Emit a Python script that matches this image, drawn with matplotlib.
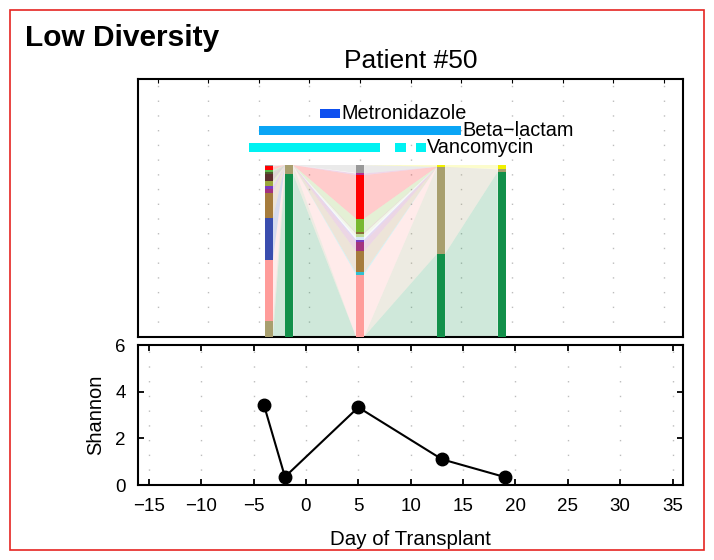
import numpy as np
import matplotlib
matplotlib.use("Agg")
import matplotlib.pyplot as plt
from matplotlib.patches import Rectangle

plt.rcParams['font.family'] = ['Liberation Sans', 'DejaVu Sans']

# --- data ---
sample_days = [-4, -2, 5, 13, 19]
shannon = [3.42, 0.35, 3.33, 1.1, 0.34]

# taxa, bottom -> top of each stacked bar
taxa_colors = ['#12904a', '#a89f6e', '#ff9c9a', '#30c0d0', '#3a4dae',
               '#a67c3c', '#a3337f', '#7a3cc0', '#d6e6f6', '#c0dc9a',
               '#8b6b3a', '#9ca83c', '#78b830', '#5e2e2e', '#4f5a2a',
               '#59b848', '#ff0000', '#b03090', '#999999', '#f0f000']
# relative abundance per sample (columns follow sample_days)
abund = np.array([
    [0.000, 0.947, 0.000, 0.483, 0.961],
    [0.094, 0.053, 0.000, 0.507, 0.014],
    [0.354, 0.000, 0.362, 0.000, 0.000],
    [0.000, 0.000, 0.012, 0.000, 0.000],
    [0.246, 0.000, 0.000, 0.000, 0.000],
    [0.144, 0.000, 0.123, 0.000, 0.000],
    [0.025, 0.000, 0.053, 0.000, 0.000],
    [0.015, 0.000, 0.016, 0.000, 0.000],
    [0.000, 0.000, 0.014, 0.000, 0.000],
    [0.000, 0.000, 0.020, 0.000, 0.000],
    [0.000, 0.000, 0.010, 0.000, 0.000],
    [0.031, 0.000, 0.000, 0.000, 0.000],
    [0.000, 0.000, 0.078, 0.000, 0.000],
    [0.039, 0.000, 0.000, 0.000, 0.000],
    [0.014, 0.000, 0.000, 0.000, 0.000],
    [0.010, 0.000, 0.000, 0.000, 0.000],
    [0.020, 0.000, 0.253, 0.000, 0.000],
    [0.000, 0.000, 0.010, 0.000, 0.000],
    [0.008, 0.000, 0.049, 0.000, 0.000],
    [0.000, 0.000, 0.000, 0.010, 0.025],
])

drugs = ['Metronidazole', 'Beta\u2212lactam', 'Vancomycin']
drug_colors = ['#0d4fef', '#0aa5f5', '#00f2f2']
drug_periods = [[(1.0, 3.0)],
                [(-5.0, 15.0)],
                [(-6.0, 7.0), (8.5, 9.5), (10.5, 11.5)]]
drug_rows = [1.3, 1.2, 1.1]

fig = plt.figure(figsize=(7.14, 5.6), dpi=100)

grid_style = dict(linestyle=(0, (1, 9.6)), lw=1.0, color='#bdbdbd')

# --- top panel: composition + antibiotics ---
ax1 = fig.add_axes([0.1937, 0.3988, 0.7629, 0.4596])
w = 0.8
cum = np.vstack([np.zeros(len(sample_days)), np.cumsum(abund, axis=0)])
for k, col in enumerate(taxa_colors):
    lo, hi = cum[k], cum[k + 1]
    ax1.bar(sample_days, abund[k], bottom=lo, width=w, color=col, lw=0, zorder=3)
    for i in range(len(sample_days) - 1):
        if abund[k, i] == 0 and abund[k, i + 1] == 0:
            continue
        xa = sample_days[i] + w / 2
        xb = sample_days[i + 1] - w / 2
        ax1.fill([xa, xa, xb, xb], [lo[i], hi[i], hi[i + 1], lo[i + 1]],
                 color=col, alpha=0.2, lw=0, zorder=2)

for name, col, periods, row in zip(drugs, drug_colors, drug_periods, drug_rows):
    for a, b in periods:
        ax1.barh(row, b - a, left=a, height=0.052, color=col, lw=0, zorder=3)
    ax1.text(periods[-1][1] + 0.15, row, name, fontsize=14.3, va='center', ha='left')

ax1.set_xlim(-16.9, 36.9)
ax1.set_ylim(0, 1.5)
ax1.set_xticks(np.arange(-15, 40, 5))
ax1.set_yticks([])
ax1.tick_params(axis='x', direction='in', length=3, top=True, bottom=False,
                labelbottom=False)
ax1.grid(axis='x', **grid_style)
ax1.set_axisbelow(True)
for s in ax1.spines.values():
    s.set_linewidth(1.5)
ax1.set_title('Patient #50', fontsize=19, pad=8)

# --- bottom panel: Shannon diversity ---
ax2 = fig.add_axes([0.1937, 0.1339, 0.7629, 0.25])
ax2.plot(sample_days, shannon, '-o', color='black', lw=1.5, ms=9, zorder=3)
ax2.set_xlim(-16, 36)
ax2.set_ylim(0, 6)
ax2.set_xticks(np.arange(-15, 40, 5))
ax2.set_yticks([0, 2, 4, 6])
ax2.tick_params(direction='in', length=4, width=1.3, top=True, right=True,
                labelsize=13.5, pad=9)
ax2.grid(axis='x', **grid_style)
ax2.set_axisbelow(True)
for s in ax2.spines.values():
    s.set_linewidth(1.5)
ax2.set_xlabel('Day of Transplant', fontsize=14.8, labelpad=11)
ax2.set_ylabel('Shannon', fontsize=14.5, labelpad=7)

fig.text(0.035, 0.917, 'Low Diversity', fontsize=21.5, fontweight='bold',
         ha='left', va='baseline')
fig.patches.append(Rectangle((9.5 / 714, 1 - 549.5 / 560), 694 / 714, 539.5 / 560,
                             transform=fig.transFigure, fill=False,
                             edgecolor='#e52521', lw=1.2))

fig.savefig('out.png', dpi=100)
